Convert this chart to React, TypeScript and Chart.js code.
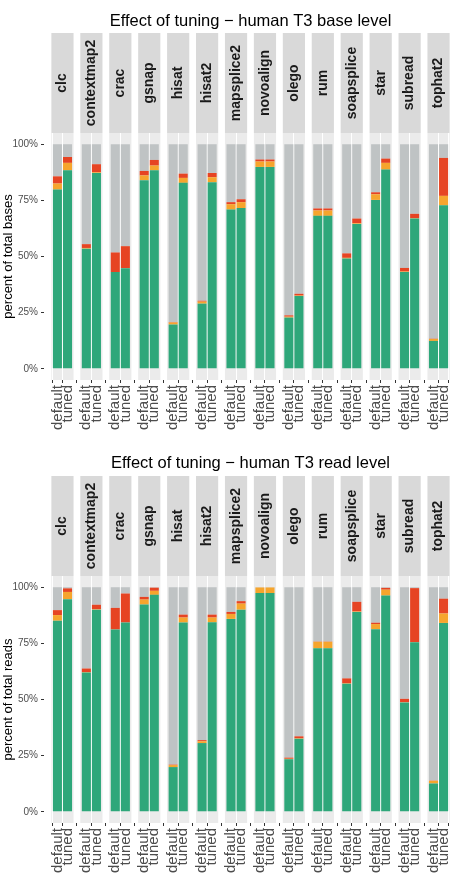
import React, { useEffect, useRef } from "react";
import { Chart, registerables } from "chart.js";

Chart.register(...registerables);

// ---------------- data ----------------
const ALIGNERS = [
  "clc", "contextmap2", "crac", "gsnap", "hisat", "hisat2", "mapsplice2",
  "novoalign", "olego", "rum", "soapsplice", "star", "subread", "tophat2",
];
const CONDITIONS = ["default", "tuned"];
const Y_TICKS = [0, 25, 50, 75, 100];
const Y_TICK_LABELS = ["0%", "25%", "50%", "75%", "100%"];

// base level (percent of total bases)
const BASE_GREEN_DEFAULT = [79.8, 53.5, 43.1, 84.0, 19.7, 29.0, 70.9, 89.9, 22.8, 68.1, 49.1, 75.2, 43.1, 12.4];
const BASE_GREEN_TUNED = [88.4, 87.2, 44.8, 88.4, 82.8, 83.1, 71.6, 89.9, 32.4, 68.1, 64.5, 88.7, 66.9, 72.8];
const BASE_ORANGE_DEFAULT = [2.7, 0.3, 0.0, 2.1, 0.9, 0.9, 2.4, 2.4, 0.4, 2.4, 0.3, 2.5, 0.2, 0.9];
const BASE_ORANGE_TUNED = [3.3, 0.3, 0.0, 2.1, 2.2, 2.2, 2.6, 2.4, 0.2, 2.4, 0.3, 3.0, 0.2, 4.2];
const BASE_RED_DEFAULT = [3.2, 1.7, 8.7, 2.0, 0.2, 0.4, 0.9, 0.9, 0.6, 0.9, 2.0, 0.9, 1.6, 0.1];
const BASE_RED_TUNED = [2.6, 3.6, 9.8, 2.5, 1.9, 1.9, 1.3, 0.9, 0.8, 0.9, 2.1, 1.9, 1.9, 16.9];

// read level (percent of total reads)
const READ_GREEN_DEFAULT = [85.1, 62.0, 81.2, 92.3, 19.9, 30.6, 85.9, 97.4, 23.4, 72.8, 57.0, 81.3, 48.7, 12.6];
const READ_GREEN_TUNED = [94.7, 90.0, 84.3, 96.6, 84.3, 84.4, 90.0, 97.4, 32.5, 72.8, 89.0, 96.3, 75.5, 84.1];
const READ_ORANGE_DEFAULT = [2.5, 0.2, 0.0, 2.2, 0.9, 0.8, 2.2, 2.5, 0.2, 2.9, 0.2, 2.3, 0.1, 1.2];
const READ_ORANGE_TUNED = [3.2, 0.2, 0.0, 1.8, 2.2, 2.1, 2.7, 2.5, 0.2, 2.9, 0.2, 2.6, 0.1, 4.2];
const READ_RED_DEFAULT = [2.2, 1.6, 9.6, 1.2, 0.2, 0.5, 0.9, 0.0, 0.5, 0.1, 2.2, 0.6, 1.5, 0.1];
const READ_RED_TUNED = [1.6, 2.0, 12.9, 1.4, 1.3, 1.3, 1.1, 0.0, 0.9, 0.1, 4.3, 0.8, 24.0, 6.6];

// ---------------- style ----------------
const FONT = '"Liberation Sans", Arial, Helvetica, sans-serif';
const COLOR_GREEN = "#2EA77A";
const COLOR_ORANGE = "#F6A52D";
const COLOR_RED = "#E64423";
const COLOR_GREY = "#BFC3C4";
const STRIP_BG = "#D9D9D9";
const PANEL_BG = "#EBEBEB";

// facet geometry in x-scale units (one unit = one bar slot)
const FACET_UNITS = 2.2;
const GAP_UNITS = 7 / (23 / 2.2);
const X_MAX = ALIGNERS.length * FACET_UNITS + (ALIGNERS.length - 1) * GAP_UNITS;
const facetStart = (k: number) => k * (FACET_UNITS + GAP_UNITS);
const barX = (k: number, j: number) => facetStart(k) + 0.6 + j;

const TICK_POSITIONS = ALIGNERS.flatMap((_, k) => [barX(k, 0), barX(k, 1)]);

type PanelSpec = {
  title: string;
  yTitle: string;
  greenD: number[]; greenT: number[];
  orangeD: number[]; orangeT: number[];
  redD: number[]; redT: number[];
  height: number;
  top: number;
  titleY: number;
};

function pairs(d: number[], t: number[]) {
  return ALIGNERS.flatMap((_, k) => [
    { x: barX(k, 0), y: d[k] },
    { x: barX(k, 1), y: t[k] },
  ]);
}

function rest(g: number[], o: number[], r: number[]) {
  return g.map((v, i) => Math.max(0, 100 - v - o[i] - r[i]));
}

const STRIP_TOP = 33;
const AREA_TOP = 133;
const AREA_BOTTOM = 380;
const AREA_RIGHT_PAD = 9;
const Y_AXIS_W = 44;

function FacetPanel({ spec }: { spec: PanelSpec }) {
  const ref = useRef<HTMLCanvasElement | null>(null);

  useEffect(() => {
    if (!ref.current) return;
    const greyD = rest(spec.greenD, spec.orangeD, spec.redD);
    const greyT = rest(spec.greenT, spec.orangeT, spec.redT);

    const decor = {
      id: "facetDecor",
      beforeDraw(chart: any) {
        const { ctx, chartArea } = chart;
        const xs = chart.scales.x;
        ctx.save();
        // title
        ctx.fillStyle = "#000000";
        ctx.font = `16.5px ${FONT}`;
        ctx.textAlign = "center";
        ctx.textBaseline = "alphabetic";
        ctx.fillText(spec.title, (chartArea.left + chartArea.right) / 2, spec.titleY);
        // strips & panel backgrounds
        ALIGNERS.forEach((name, k) => {
          const l = xs.getPixelForValue(facetStart(k));
          const r = xs.getPixelForValue(facetStart(k) + FACET_UNITS);
          ctx.fillStyle = STRIP_BG;
          ctx.fillRect(l, STRIP_TOP, r - l, chartArea.top - STRIP_TOP);
          ctx.fillStyle = PANEL_BG;
          ctx.fillRect(l, chartArea.top, r - l, chartArea.bottom - chartArea.top);
          ctx.save();
          ctx.translate((l + r) / 2, (STRIP_TOP + chartArea.top) / 2);
          ctx.rotate(-Math.PI / 2);
          ctx.fillStyle = "#1A1A1A";
          ctx.font = `bold 14px ${FONT}`;
          ctx.textAlign = "center";
          ctx.textBaseline = "middle";
          ctx.fillText(name, 0, 0);
          ctx.restore();
        });
        // y axis title
        ctx.save();
        ctx.translate(8, (chartArea.top + chartArea.bottom) / 2);
        ctx.rotate(-Math.PI / 2);
        ctx.fillStyle = "#000000";
        ctx.font = `13px ${FONT}`;
        ctx.textAlign = "center";
        ctx.textBaseline = "middle";
        ctx.fillText(spec.yTitle, 0, 0);
        ctx.restore();
        ctx.restore();
      },
    };

    const chart = new Chart(ref.current, {
      type: "bar",
      data: {
        datasets: [
          { label: "green", data: pairs(spec.greenD, spec.greenT), backgroundColor: COLOR_GREEN },
          { label: "orange", data: pairs(spec.orangeD, spec.orangeT), backgroundColor: COLOR_ORANGE },
          { label: "red", data: pairs(spec.redD, spec.redT), backgroundColor: COLOR_RED },
          { label: "grey", data: pairs(greyD, greyT), backgroundColor: COLOR_GREY },
        ] as any,
      },
      options: {
        animation: false,
        responsive: false,
        maintainAspectRatio: false,
        devicePixelRatio: 1,
        events: [],
        layout: { padding: { top: AREA_TOP, right: AREA_RIGHT_PAD, left: 0, bottom: 0 } },
        datasets: { bar: { barPercentage: 0.9, categoryPercentage: 1.0, borderWidth: 0 } } as any,
        plugins: { legend: { display: false }, tooltip: { enabled: false }, title: { display: false } },
        scales: {
          x: {
            type: "linear",
            stacked: true,
            min: 0,
            max: X_MAX,
            bounds: "data",
            border: { display: false },
            grid: {
              color: "#FFFFFF",
              lineWidth: 1,
              drawOnChartArea: true,
              drawTicks: true,
              tickLength: 3,
              tickColor: "#333333",
              tickWidth: 1,
            },
            afterBuildTicks: (scale: any) => {
              scale.ticks = TICK_POSITIONS.map((v) => ({ value: v }));
            },
            afterFit: (scale: any) => {
              scale.height = spec.height - AREA_BOTTOM;
              scale.paddingLeft = 0;
              scale.paddingRight = 0;
            },
            ticks: {
              autoSkip: false,
              minRotation: 90,
              maxRotation: 90,
              padding: 2,
              color: "#4D4D4D",
              font: { family: FONT, size: 15 },
              callback: (_v: any, i: number) => CONDITIONS[i % 2],
            },
          } as any,
          y: {
            type: "linear",
            stacked: true,
            min: -5,
            max: 105,
            bounds: "data",
            border: { display: false },
            grid: {
              drawOnChartArea: false,
              drawTicks: true,
              tickLength: 3,
              tickColor: "#333333",
              tickWidth: 1,
            },
            afterBuildTicks: (scale: any) => {
              scale.ticks = Y_TICKS.map((v) => ({ value: v }));
            },
            afterFit: (scale: any) => {
              scale.width = Y_AXIS_W;
              scale.paddingTop = 0;
              scale.paddingBottom = 0;
            },
            ticks: {
              padding: 3,
              color: "#4D4D4D",
              font: { family: FONT, size: 10 },
              callback: (_v: any, i: number) => Y_TICK_LABELS[i],
            },
          } as any,
        },
      },
      plugins: [decor as any],
    });
    return () => chart.destroy();
  }, [spec]);

  return (
    <canvas
      ref={ref}
      width={466}
      height={spec.height}
      style={{ position: "absolute", left: 0, top: spec.top, width: 466, height: spec.height }}
    />
  );
}

const PANELS: PanelSpec[] = [
  {
    title: "Effect of tuning \u2212 human T3 base level",
    yTitle: "percent of total bases",
    greenD: BASE_GREEN_DEFAULT, greenT: BASE_GREEN_TUNED,
    orangeD: BASE_ORANGE_DEFAULT, orangeT: BASE_ORANGE_TUNED,
    redD: BASE_RED_DEFAULT, redT: BASE_RED_TUNED,
    height: 443, top: 0, titleY: 26,
  },
  {
    title: "Effect of tuning \u2212 human T3 read level",
    yTitle: "percent of total reads",
    greenD: READ_GREEN_DEFAULT, greenT: READ_GREEN_TUNED,
    orangeD: READ_ORANGE_DEFAULT, orangeT: READ_ORANGE_TUNED,
    redD: READ_RED_DEFAULT, redT: READ_RED_TUNED,
    height: 436, top: 443, titleY: 25,
  },
];

export default function App() {
  return (
    <div style={{ position: "absolute", left: 0, top: 0, width: 466, height: 879, background: "#FFFFFF", overflow: "hidden" }}>
      {PANELS.map((p, i) => (
        <FacetPanel key={i} spec={p} />
      ))}
    </div>
  );
}
